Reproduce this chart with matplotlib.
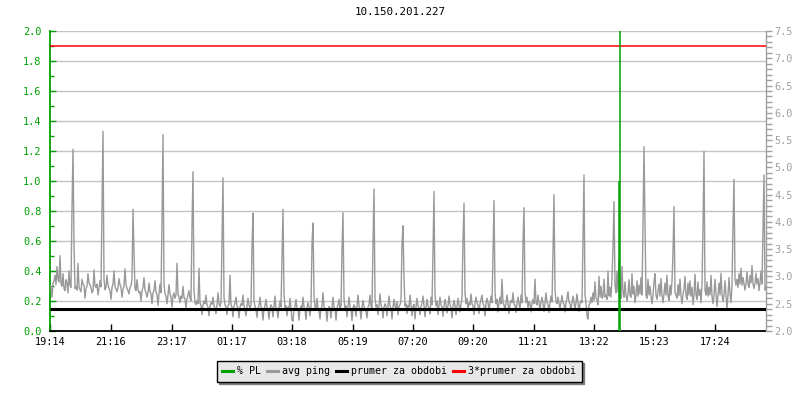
import numpy as np
import matplotlib
matplotlib.use("Agg")
import matplotlib.pyplot as plt
from matplotlib.lines import Line2D
from matplotlib.ticker import MultipleLocator, FixedLocator, FormatStrFormatter

plt.rcParams['font.family'] = ['DejaVu Sans Mono']

title = "10.150.201.227"
tick_labels = ["19:14", "21:16", "23:17", "01:17", "03:18", "05:19",
               "07:20", "09:20", "11:21", "13:22", "15:23", "17:24"]
sample_step_min = 2      # one sample every 2 minutes
span_min = 1432

# avg ping [ms], right axis (one value per sample)
avg_ping_ms = [
    2.83, 2.80, 2.62, 2.88, 2.92, 3.02, 2.85, 3.18, 2.95, 2.90, 3.38, 2.86, 2.82, 3.05, 2.78, 2.74, 2.94, 2.88, 2.70, 3.10, 2.84, 2.80,
    4.26, 5.33, 3.60,
    2.78, 2.82, 2.75, 3.24, 2.80, 2.76, 2.72, 2.95, 2.86, 2.84, 2.60, 2.78, 2.82, 3.05, 2.88, 2.85, 2.79, 2.70, 2.74, 3.12, 2.83, 2.80, 2.86, 2.66, 2.78, 2.92, 2.81,
    4.17, 5.66, 2.95,
    2.76, 2.80, 3.02, 2.84, 2.78, 2.74, 2.58, 2.80, 2.86, 3.10, 2.82, 2.77, 2.72, 2.79, 2.96, 2.85, 2.80, 2.62, 2.76, 2.82, 3.14, 2.85, 2.78, 2.74, 2.68, 2.80, 2.83,
    2.95, 4.23, 3.43,
    2.78, 2.74, 2.94, 2.76, 2.70, 2.72, 2.55, 2.74, 2.80, 2.98, 2.75, 2.71, 2.62, 2.70, 2.88, 2.73, 2.68, 2.50, 2.70, 2.74, 2.92, 2.72, 2.66, 2.47, 2.68, 2.86, 2.70,
    4.01, 5.60, 2.85,
    2.68, 2.64, 2.50, 2.66, 2.85, 2.68, 2.62, 2.44, 2.64, 2.70, 2.60, 2.66, 3.24, 2.68, 2.62, 2.52, 2.64, 2.60, 2.82, 2.62, 2.58, 2.42, 2.60, 2.66, 2.74, 2.60, 2.56,
    3.93, 4.92, 2.75,
    2.52, 2.48, 2.56, 2.50, 3.15, 2.52, 2.46, 2.30, 2.48, 2.55, 2.50, 2.66, 2.48, 2.44, 2.28, 2.46, 2.52, 2.49, 2.62, 2.47, 2.42, 2.32, 2.48, 2.70, 2.50, 2.45, 2.52,
    3.73, 4.81, 2.62,
    2.48, 2.44, 2.30, 2.46, 2.50, 3.02, 2.48, 2.44, 2.26, 2.45, 2.52, 2.62, 2.46, 2.42, 2.24, 2.44, 2.50, 2.47, 2.66, 2.46, 2.40, 2.28, 2.45, 2.60, 2.47, 2.42, 2.48,
    3.54, 4.16, 2.55,
    2.45, 2.40, 2.25, 2.42, 2.47, 2.62, 2.44, 2.40, 2.20, 2.41, 2.46, 2.58, 2.43, 2.38, 2.22, 2.42, 2.48, 2.44, 2.26, 2.45, 2.64, 2.42, 2.38, 2.24, 2.43, 2.55, 2.44,
    3.29, 4.23, 2.70,
    2.42, 2.46, 2.28, 2.44, 2.40, 2.60, 2.43, 2.20, 2.18, 2.40, 2.45, 2.58, 2.42, 2.38, 2.20, 2.40, 2.46, 2.42, 2.62, 2.44, 2.39, 2.21, 2.42, 2.52, 2.44, 2.28, 2.45,
    3.60, 3.98, 2.65,
    2.44, 2.40, 2.60, 2.43, 2.38, 2.22, 2.41, 2.46, 2.70, 2.44, 2.40, 2.38, 2.18, 2.40, 2.45, 2.42, 2.24, 2.43, 2.62, 2.44, 2.40, 2.20, 2.41, 2.48, 2.58, 2.42, 2.45,
    3.49, 4.17, 2.60,
    2.42, 2.46, 2.26, 2.44, 2.62, 2.45, 2.40, 2.19, 2.42, 2.48, 2.44, 2.27, 2.45, 2.66, 2.46, 2.41, 2.22, 2.43, 2.56, 2.45, 2.40, 2.35, 2.24, 2.44, 2.48, 2.66, 2.45, 2.42,
    3.60, 4.60, 2.62,
    2.44, 2.48, 2.30, 2.46, 2.68, 2.47, 2.42, 2.24, 2.44, 2.50, 2.46, 2.28, 2.45, 2.64, 2.46, 2.41, 2.22, 2.44, 2.58, 2.46, 2.40, 2.54, 2.30, 2.45, 2.48, 2.56,
    3.60, 3.93, 2.96,
    2.46, 2.50, 2.32, 2.47, 2.44, 2.66, 2.46, 2.28, 2.45, 2.49, 2.22, 2.44, 2.60, 2.46, 2.42, 2.30, 2.46, 2.50, 2.64, 2.47, 2.26, 2.44, 2.58, 2.46, 2.42, 2.32, 2.62, 2.48,
    3.46, 4.56, 2.66,
    2.46, 2.55, 2.30, 2.47, 2.62, 2.48, 2.44, 2.27, 2.46, 2.58, 2.48, 2.33, 2.47, 2.64, 2.48, 2.43, 2.24, 2.46, 2.56, 2.47, 2.30, 2.45, 2.60, 2.48, 2.35, 2.50, 2.62,
    3.68, 4.34, 2.70,
    2.50, 2.60, 2.38, 2.52, 2.48, 2.68, 2.50, 2.46, 2.30, 2.50, 2.62, 2.52, 2.48, 2.32, 2.50, 2.58, 2.66, 2.50, 2.46, 2.28, 2.50, 2.60, 2.52, 2.38, 2.51, 2.64, 2.52,
    3.40, 4.39, 2.72,
    2.50, 2.58, 2.35, 2.52, 2.62, 2.50, 2.95, 2.52, 2.48, 2.38, 2.52, 2.66, 2.50, 2.32, 2.50, 2.56, 2.52, 2.70, 2.50, 2.47, 2.34, 2.51, 2.62, 2.50, 2.40, 2.66, 2.52,
    3.65, 4.26, 2.70,
    2.52, 2.62, 2.42, 2.54, 2.50, 2.35, 2.52, 2.58, 2.50, 2.95, 2.52, 2.48, 2.66, 2.52, 2.38, 2.53, 2.62, 2.51, 2.36, 2.52, 2.70, 2.52, 2.49, 2.34, 2.52, 2.64, 2.53,
    3.46, 4.50, 2.75,
    2.54, 2.50, 2.62, 2.52, 2.40, 2.53, 2.65, 2.52, 2.50, 2.35, 2.52, 2.60, 2.72, 2.53, 2.50, 2.38, 2.52, 2.64, 2.53, 2.40, 2.52, 2.68, 2.52, 2.36, 2.50, 2.56, 2.52,
    3.73, 4.86, 2.68,
    2.50, 2.28, 2.22, 2.48, 2.50, 2.62, 2.52, 2.70, 2.56, 2.90, 2.60, 2.58, 2.48, 3.00, 2.62, 2.82, 2.60, 2.64, 2.95, 2.62, 2.66, 2.58, 3.10, 2.64, 2.80, 2.62, 2.98,
    3.54, 4.37, 2.85,
    2.70, 3.10, 2.72, 3.30, 2.74, 2.60, 3.18, 2.70, 2.62, 2.90, 2.66, 2.55, 2.68, 2.94, 2.66, 2.62, 3.05, 2.68, 2.82, 2.52, 2.66, 2.92, 2.64, 2.84, 2.68, 2.98, 2.66,
    4.06, 5.38, 3.93,
    2.65, 2.60, 2.95, 2.66, 2.82, 2.64, 2.50, 2.66, 2.90, 3.05, 2.66, 2.58, 2.72, 2.86, 2.64, 2.96, 2.66, 2.52, 2.68, 2.88, 2.66, 3.02, 2.64, 2.56, 2.84, 2.66, 2.92,
    3.43, 4.28, 2.70,
    2.66, 2.60, 2.85, 2.65, 2.95, 2.64, 2.50, 2.66, 2.78, 3.00, 2.65, 2.58, 2.88, 2.66, 2.92, 2.64, 2.80, 2.48, 2.66, 3.04, 2.66, 2.58, 2.90, 2.65, 2.76, 2.52, 2.84,
    3.90, 5.29, 2.75,
    2.66, 2.90, 2.64, 2.80, 2.66, 3.02, 2.64, 2.50, 2.66, 2.95, 2.68, 2.45, 2.66, 2.88, 2.66, 3.06, 2.68, 2.54, 2.66, 2.92, 2.66, 2.40, 2.66, 2.98, 2.68, 2.52, 2.84,
    3.93, 4.78, 2.95,
    2.84, 2.95, 2.80, 3.05, 2.86, 3.15, 2.84, 2.98, 2.86, 2.75, 2.87, 3.08, 2.86, 2.80, 3.02, 2.88, 3.20, 2.86, 2.78, 2.88, 3.06, 2.86, 2.96, 2.74, 2.88, 3.10, 2.86,
    3.84, 4.86, 2.75, 2.80,
]

# packet loss [%], left axis (non-zero samples only)
pl_index = [569, 570]
pl_percent = [1.0, 100.0]

mean_ms = 2.41
mean3_ms = 7.23

legend_labels = ["% PL", "avg ping", "prumer za obdobi", "3*prumer za obdobi"]

GREEN = "#00a000"
GRAY = "#999999"
AXGRAY = "#a0a0a0"

# ---- derived series ----
ping = np.asarray(avg_ping_ms, dtype=float)
t_ping = np.arange(len(ping)) * sample_step_min

n_pl = span_min // sample_step_min + 1
pl = np.zeros(n_pl)
pl[pl_index] = pl_percent
t_pl = np.arange(n_pl) * sample_step_min
nz = pl > 0


def to_min(lbl, start):
    h, m = map(int, lbl.split(":"))
    sh, sm = map(int, start.split(":"))
    return ((h * 60 + m) - (sh * 60 + sm)) % 1440


tick_pos = [to_min(l, tick_labels[0]) for l in tick_labels]

fig = plt.figure(figsize=(8, 4), dpi=100)
ax = fig.add_axes([50 / 800, 69 / 400, 716 / 800, 300 / 400])
ax2 = ax.twinx()

ax.set_xlim(0, span_min)
ax.set_ylim(0, 2.0)

# grid (left axis)
ax.yaxis.set_major_locator(MultipleLocator(0.2))
ax.yaxis.set_minor_locator(MultipleLocator(0.1))
ax.yaxis.set_major_formatter(FormatStrFormatter('%.1f'))
ax.grid(axis='y', which='major', color='#c4c4c4', linewidth=1.0)
ax.set_axisbelow(True)

# data on right axis
ax2.plot(t_ping, ping, color=GRAY, lw=1.0, zorder=2)
ax2.plot([0, span_min], [mean_ms, mean_ms], color='black', lw=2.2, zorder=3,
         solid_capstyle='butt')
ax2.plot([0, span_min], [mean3_ms, mean3_ms], color='#ff0000', lw=1.1, zorder=3,
         solid_capstyle='butt')
# packet loss drawn in left-axis coordinates, on top
pl_lines = ax2.vlines(t_pl[nz], 0, pl[nz], colors=GREEN, linewidth=1.1,
                      transform=ax.transData, zorder=5)
pl_lines.set_clip_box(ax2.bbox)
ax2.set_ylim(2.0, 7.5)
ax2.set_xlim(0, span_min)

# spines
for s in ['top', 'right']:
    ax.spines[s].set_visible(False)
ax.spines['left'].set_color(GREEN)
ax.spines['left'].set_linewidth(1.3)
ax.spines['bottom'].set_color('black')
ax.spines['bottom'].set_linewidth(1.3)
for s in ['top', 'left', 'bottom']:
    ax2.spines[s].set_visible(False)
ax2.spines['right'].set_color(AXGRAY)
ax2.spines['right'].set_linewidth(1.0)

# ticks
ax.tick_params(axis='y', which='both', direction='in', colors=GREEN,
               labelsize=7.4, pad=6)
ax.tick_params(axis='y', which='major', length=4, width=1)
ax.tick_params(axis='y', which='minor', length=3, width=1)
ax.xaxis.set_major_locator(FixedLocator(tick_pos))
ax.set_xticklabels(tick_labels)
ax.tick_params(axis='x', which='major', direction='in', length=5, width=1,
               colors='black', labelsize=7.4, pad=4)

ax2.yaxis.set_major_locator(MultipleLocator(0.5))
ax2.yaxis.set_minor_locator(MultipleLocator(0.1))
ax2.yaxis.set_major_formatter(FormatStrFormatter('%.1f'))
ax2.tick_params(axis='y', which='both', direction='out', colors=AXGRAY,
                labelsize=7.4, pad=2)
ax2.tick_params(axis='y', which='major', length=4, width=1)
ax2.tick_params(axis='y', which='minor', length=4, width=1)

fig.text(0.5, 1 - 12 / 400, title, ha='center', va='center', fontsize=7.8,
         color='black')

handles = [Line2D([], [], color=GREEN, lw=2.2),
           Line2D([], [], color=GRAY, lw=2.2),
           Line2D([], [], color='black', lw=2.2),
           Line2D([], [], color='#ff0000', lw=2.2)]
leg = fig.legend(handles, legend_labels, loc='center',
                 bbox_to_anchor=(399 / 800, 1 - 371 / 400), ncol=4,
                 fontsize=7.2, frameon=True, fancybox=False,
                 shadow={'color': '#808080', 'alpha': 1.0},
                 edgecolor='black', facecolor='#e8e8e8', framealpha=1.0,
                 handlelength=1.1, handletextpad=0.4, columnspacing=0.6,
                 borderpad=0.55)
leg.get_frame().set_linewidth(1.0)

fig.savefig("out.png", dpi=100)
